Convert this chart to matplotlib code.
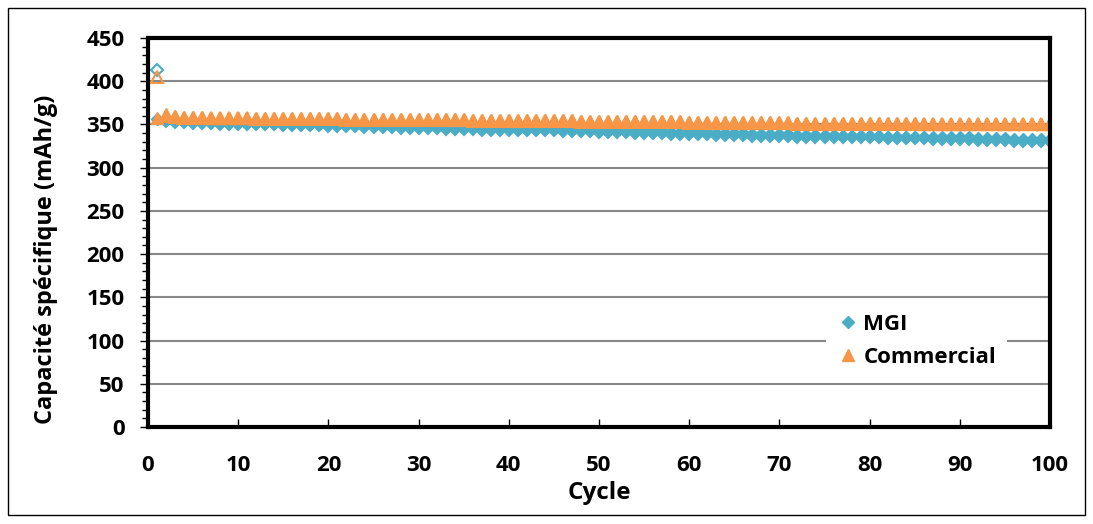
import matplotlib.pyplot as plt
from matplotlib.patches import Rectangle
from matplotlib.ticker import MultipleLocator

# -------------------------------
# Data
# -------------------------------
cycles = list(range(1, 101))

mgi_charge = [
    356, 355, 355, 354, 354, 354, 353, 353, 353, 353,
    352, 352, 352, 352, 351, 351, 351, 351, 351, 350,
    350, 350, 350, 349, 349, 349, 349, 348, 348, 348,
    348, 348, 347, 347, 347, 347, 346, 346, 346, 346,
    345, 345, 345, 345, 345, 344, 344, 344, 344, 343,
    343, 343, 343, 342, 342, 342, 342, 341, 341, 341,
    341, 341, 340, 340, 340, 340, 339, 339, 339, 339,
    339, 338, 338, 338, 338, 338, 337, 337, 337, 337,
    337, 336, 336, 336, 336, 336, 335, 335, 335, 335,
    335, 334, 334, 334, 334, 333, 333, 333, 333, 333,
]

mgi_discharge = [
    413, 354, 353, 353, 352, 352, 352, 351, 351, 351,
    350, 350, 350, 350, 349, 349, 349, 349, 349, 348,
    348, 348, 348, 347, 347, 347, 347, 346, 346, 346,
    346, 346, 345, 345, 345, 345, 344, 344, 344, 344,
    343, 343, 343, 343, 343, 342, 342, 342, 342, 341,
    341, 341, 341, 340, 340, 340, 340, 339, 339, 339,
    339, 339, 338, 338, 338, 338, 337, 337, 337, 337,
    337, 336, 336, 336, 336, 336, 335, 335, 335, 335,
    335, 334, 334, 334, 334, 334, 333, 333, 333, 333,
    333, 332, 332, 332, 332, 331, 331, 331, 331, 331,
]

com_charge = [
    357, 362, 360, 359, 359, 359, 358, 358, 358, 358,
    358, 357, 357, 357, 357, 357, 357, 357, 357, 357,
    357, 356, 356, 356, 356, 356, 356, 356, 356, 356,
    356, 356, 356, 356, 356, 355, 355, 355, 355, 355,
    355, 355, 355, 355, 355, 355, 355, 354, 354, 354,
    354, 354, 354, 354, 354, 354, 354, 354, 354, 353,
    353, 353, 353, 353, 353, 353, 353, 353, 353, 353,
    353, 352, 352, 352, 352, 352, 352, 352, 352, 352,
    352, 352, 352, 352, 352, 351, 351, 351, 351, 351,
    351, 351, 351, 351, 351, 351, 351, 351, 351, 351,
]

com_discharge = [
    405, 360, 359, 358, 358, 358, 357, 357, 357, 357,
    357, 356, 356, 356, 356, 356, 356, 356, 356, 356,
    356, 355, 355, 355, 355, 355, 355, 355, 355, 355,
    355, 355, 355, 355, 355, 354, 354, 354, 354, 354,
    354, 354, 354, 354, 354, 354, 354, 353, 353, 353,
    353, 353, 353, 353, 353, 353, 353, 353, 353, 352,
    352, 352, 352, 352, 352, 352, 352, 352, 352, 352,
    352, 351, 351, 351, 351, 351, 351, 351, 351, 351,
    351, 351, 351, 351, 351, 350, 350, 350, 350, 350,
    350, 350, 350, 350, 350, 350, 350, 350, 350, 350,
]

blue = "#4BACC6"
orange = "#F79646"

plt.rcParams["font.family"] = ["Open Sans", "DejaVu Sans"]
plt.rcParams["font.weight"] = "bold"

# -------------------------------
# Plot
# -------------------------------
fig = plt.figure(figsize=(10.93, 5.24), dpi=100)
ax = fig.add_axes([148 / 1093, 1 - 427 / 524, (1050 - 148) / 1093, (427 - 38) / 524])

ax.plot(cycles, mgi_discharge, linestyle="none", marker="D", markersize=6,
        markerfacecolor="none", markeredgecolor=blue, markeredgewidth=1.5)
ax.plot(cycles, mgi_charge, linestyle="none", marker="D", markersize=6,
        color=blue, label="MGI")
ax.plot(cycles, com_discharge, linestyle="none", marker="^", markersize=8,
        markerfacecolor="none", markeredgecolor=orange, markeredgewidth=1.5)
ax.plot(cycles, com_charge, linestyle="none", marker="^", markersize=8,
        color=orange, label="Commercial")

ax.set_xlim(0, 100)
ax.set_ylim(0, 450)
ax.xaxis.set_major_locator(MultipleLocator(10))
ax.yaxis.set_major_locator(MultipleLocator(50))
ax.yaxis.set_minor_locator(MultipleLocator(10))

ax.grid(axis="y", which="major", color="#888888", linewidth=1.5)
ax.set_axisbelow(True)

for s in ax.spines.values():
    s.set_linewidth(3)
    s.set_color("black")

ax.tick_params(axis="y", which="major", direction="out", length=6, width=1,
               labelsize=16, pad=11)
ax.tick_params(axis="y", which="minor", direction="out", length=4, width=1)
ax.tick_params(axis="x", which="major", direction="in", length=6, width=1,
               labelsize=16, pad=20)
for lbl in ax.get_xticklabels() + ax.get_yticklabels():
    lbl.set_fontweight("bold")

ax.set_xlabel("Cycle", fontsize=17.5, fontweight="bold")
ax.set_ylabel("Capacité spécifique (mAh/g)", fontsize=17, fontweight="bold")
ax.xaxis.set_label_coords(0.5, -0.138)
ax.yaxis.set_label_coords(-0.1, 0.43)

leg = ax.legend(loc="lower right", bbox_to_anchor=(0.965, 0.095), frameon=True,
                prop={"size": 16, "weight": "bold"}, handletextpad=0.2,
                labelspacing=0.55, handlelength=1.0, borderpad=0.5)
leg.get_frame().set_linewidth(0)
leg.get_frame().set_facecolor("white")
leg.get_frame().set_alpha(1)

# outer border
fig.patches.append(Rectangle((8 / 1093, 1 - 515 / 524), 1077 / 1093, 507 / 524,
                             transform=fig.transFigure, fill=False,
                             edgecolor="black", linewidth=1))

plt.savefig("out.png", dpi=100)
